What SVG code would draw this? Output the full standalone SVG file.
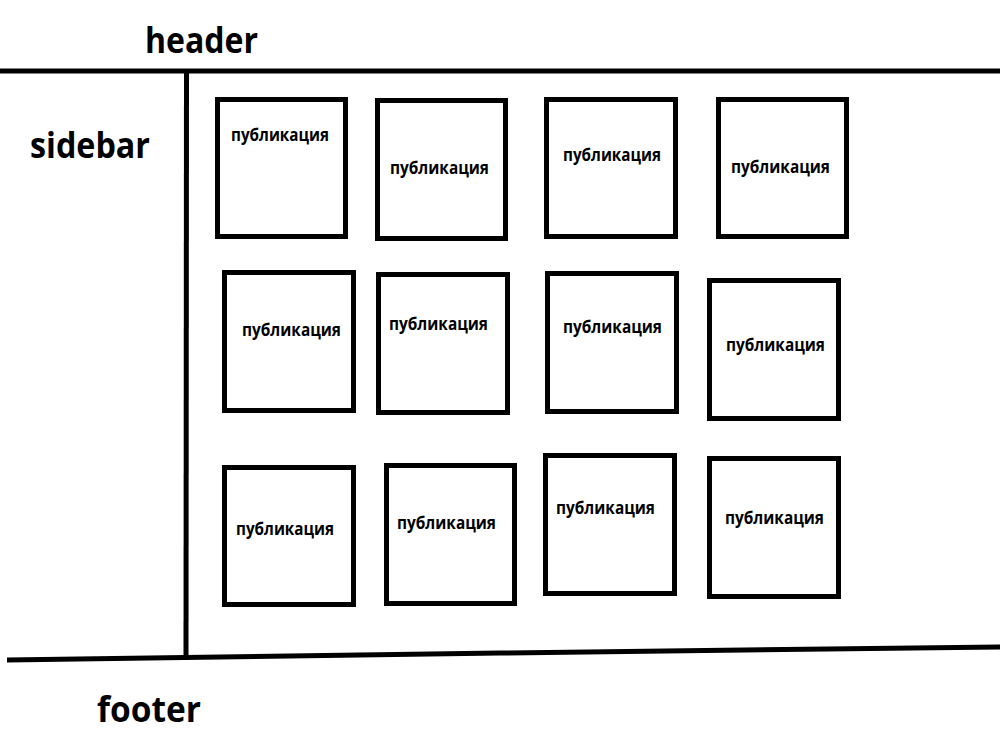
<svg xmlns="http://www.w3.org/2000/svg" width="1000" height="753" viewBox="0 0 1000 753">
<style>
.box{fill:#fff;stroke:#000;stroke-width:5}
.lbl{font-family:"Open Sans","Noto Sans","DejaVu Sans",sans-serif;font-weight:bold;font-size:17px;fill:#000}
.big{font-family:"Open Sans","Noto Sans","DejaVu Sans",sans-serif;font-weight:bold;font-size:35px;fill:#000}
.ln{stroke:#000;stroke-width:5;fill:none}
</style>
<rect width="1000" height="753" fill="#fff"/>
<g id="connectors">
<line class="ln" x1="0" y1="71" x2="1000" y2="71"/>
<line class="ln" x1="186.5" y1="71" x2="186" y2="657"/>
<polyline class="ln" points="7,660 500,653 1000,647"/>
</g>
<g id="header"><text class="big" x="145" y="53" textLength="113" lengthAdjust="spacingAndGlyphs">header</text></g>
<g id="sidebar"><text class="big" x="30" y="158" textLength="120" lengthAdjust="spacingAndGlyphs">sidebar</text></g>
<g id="footer"><text class="big" x="97" y="722" textLength="104" lengthAdjust="spacingAndGlyphs">footer</text></g>

<g id="pub1"><rect class="box" x="217.5" y="99.5" width="128" height="137"/><text class="lbl" x="231" y="141" textLength="98" lengthAdjust="spacingAndGlyphs">публикация</text></g>
<g id="pub2"><rect class="box" x="377.5" y="100.5" width="128" height="138"/><text class="lbl" x="390" y="174" textLength="99" lengthAdjust="spacingAndGlyphs">публикация</text></g>
<g id="pub3"><rect class="box" x="546.5" y="99.5" width="129" height="137"/><text class="lbl" x="563" y="161" textLength="98" lengthAdjust="spacingAndGlyphs">публикация</text></g>
<g id="pub4"><rect class="box" x="718.5" y="99.5" width="128" height="137"/><text class="lbl" x="731" y="173" textLength="99" lengthAdjust="spacingAndGlyphs">публикация</text></g>

<g id="pub5"><rect class="box" x="224.5" y="272.5" width="129" height="138"/><text class="lbl" x="242" y="336" textLength="99" lengthAdjust="spacingAndGlyphs">публикация</text></g>
<g id="pub6"><rect class="box" x="378.5" y="274.5" width="129" height="138"/><text class="lbl" x="389" y="330" textLength="99" lengthAdjust="spacingAndGlyphs">публикация</text></g>
<g id="pub7"><rect class="box" x="547.5" y="273.5" width="129" height="138"/><text class="lbl" x="563" y="333" textLength="99" lengthAdjust="spacingAndGlyphs">публикация</text></g>
<g id="pub8"><rect class="box" x="709.5" y="280.5" width="129" height="138"/><text class="lbl" x="726" y="351" textLength="99" lengthAdjust="spacingAndGlyphs">публикация</text></g>

<g id="pub9"><rect class="box" x="224.5" y="467.5" width="129" height="137"/><text class="lbl" x="236" y="535" textLength="98" lengthAdjust="spacingAndGlyphs">публикация</text></g>
<g id="pub10"><rect class="box" x="386.5" y="465.5" width="128" height="138"/><text class="lbl" x="397" y="529" textLength="99" lengthAdjust="spacingAndGlyphs">публикация</text></g>
<g id="pub11"><rect class="box" x="545.5" y="455.5" width="129" height="138"/><text class="lbl" x="556" y="514" textLength="99" lengthAdjust="spacingAndGlyphs">публикация</text></g>
<g id="pub12"><rect class="box" x="709.5" y="458.5" width="129" height="138"/><text class="lbl" x="725" y="524" textLength="99" lengthAdjust="spacingAndGlyphs">публикация</text></g>
</svg>
